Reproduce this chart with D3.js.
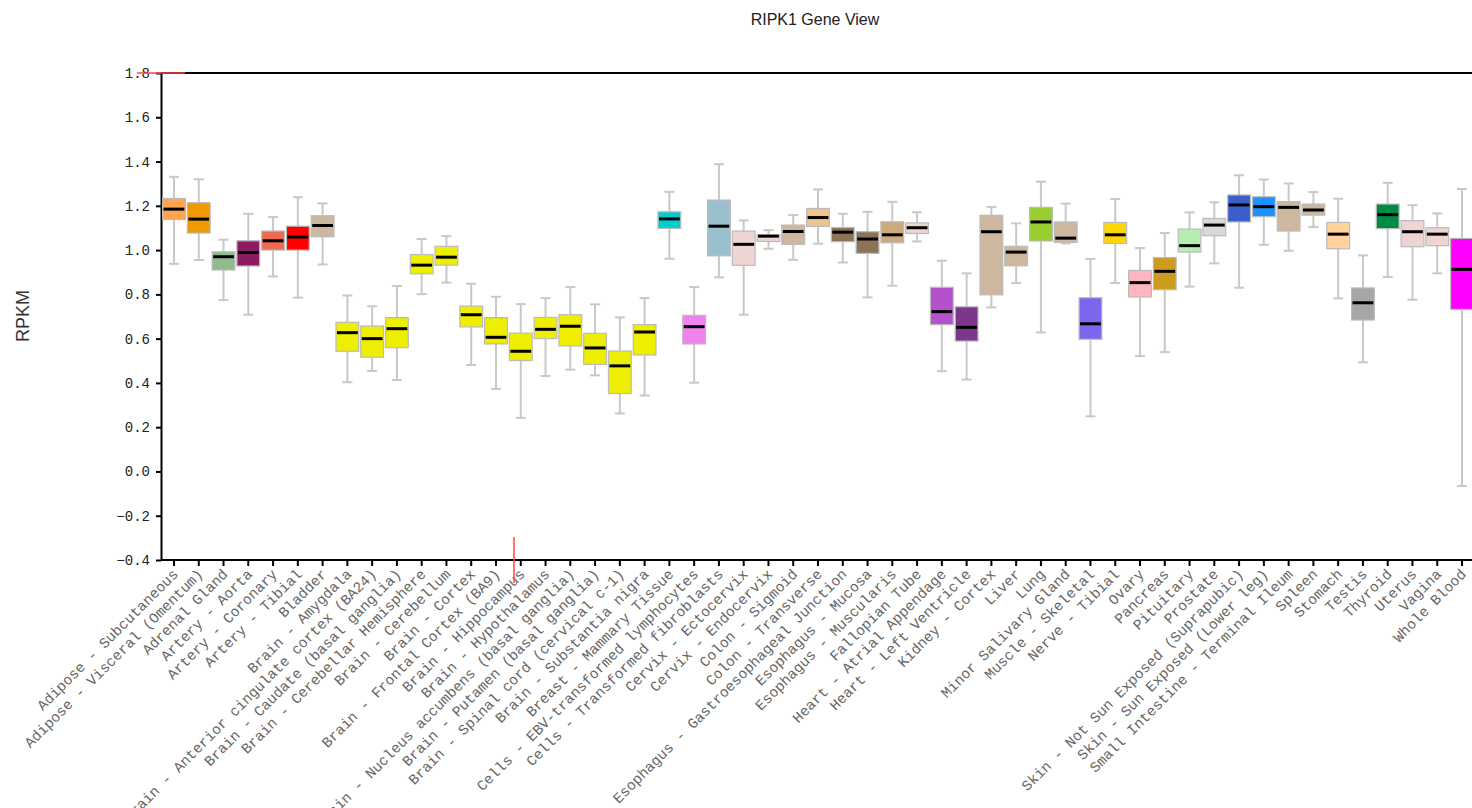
<!DOCTYPE html>
<html>
<head>
<meta charset="utf-8">
<script src="https://cdn.jsdelivr.net/npm/d3@7"></script>
<style>
  body { margin: 0; background: #fff; }
  #chart { width: 1472px; height: 808px; overflow: hidden; }
  .axis path, .axis line { stroke: #000; stroke-width: 2; }
  .yaxis text { font-family: "Liberation Mono", monospace; font-size: 14px; fill: #222; }
  .xaxis text { font-family: "Liberation Mono", monospace; font-size: 14.6px; fill: #666; }
</style>
</head>
<body>
<div id="chart"></div>
<script>
var tissues = ["Adipose - Subcutaneous","Adipose - Visceral (Omentum)","Adrenal Gland","Artery - Aorta",
  "Artery - Coronary","Artery - Tibial","Bladder","Brain - Amygdala","Brain - Anterior cingulate cortex (BA24)",
  "Brain - Caudate (basal ganglia)","Brain - Cerebellar Hemisphere","Brain - Cerebellum","Brain - Cortex",
  "Brain - Frontal Cortex (BA9)","Brain - Hippocampus","Brain - Hypothalamus","Brain - Nucleus accumbens (basal ganglia)",
  "Brain - Putamen (basal ganglia)","Brain - Spinal cord (cervical c-1)","Brain - Substantia nigra",
  "Breast - Mammary Tissue","Cells - EBV-transformed lymphocytes","Cells - Transformed fibroblasts",
  "Cervix - Ectocervix","Cervix - Endocervix","Colon - Sigmoid","Colon - Transverse",
  "Esophagus - Gastroesophageal Junction","Esophagus - Mucosa","Esophagus - Muscularis","Fallopian Tube",
  "Heart - Atrial Appendage","Heart - Left Ventricle","Kidney - Cortex","Liver","Lung","Minor Salivary Gland",
  "Muscle - Skeletal","Nerve - Tibial","Ovary","Pancreas","Pituitary","Prostate",
  "Skin - Not Sun Exposed (Suprapubic)","Skin - Sun Exposed (Lower leg)","Small Intestine - Terminal Ileum",
  "Spleen","Stomach","Testis","Thyroid","Uterus","Vagina","Whole Blood"];

var colors = ["#FFA54F","#EE9A00","#8FBC8F","#8B1C62","#EE6A50","#FF0000","#CDB79E",
  "#EEEE00","#EEEE00","#EEEE00","#EEEE00","#EEEE00","#EEEE00","#EEEE00","#EEEE00","#EEEE00","#EEEE00",
  "#EEEE00","#EEEE00","#EEEE00","#00CDCD","#EE82EE","#9AC0CD","#EED5D2","#EED5D2","#CDB79E","#EEC591",
  "#8B7355","#8B7355","#CDAA7D","#EED5D2","#B452CD","#7A378B","#CDB79E","#CDB79E","#9ACD32","#CDB79E",
  "#7A67EE","#FFD700","#FFB6C1","#CD9B1D","#B4EEB4","#D9D9D9","#3A5FCD","#1E90FF","#CDB79E",
  "#CDB79E","#FFD39B","#A6A6A6","#008B45","#EED5D2","#EED5D2","#FF00FF"];

var whiskerHigh = [1.331,1.320,1.047,1.164,1.149,1.239,1.211,0.795,0.746,0.838,1.050,1.063,0.848,0.789,
  0.756,0.783,0.833,0.755,0.696,0.783,1.263,0.833,1.388,1.134,1.090,1.158,1.274,1.164,1.173,1.218,1.171,
  0.952,0.895,1.195,1.121,1.309,1.210,0.960,1.231,1.009,1.077,1.170,1.216,1.338,1.319,1.301,1.262,1.232,
  0.976,1.304,1.203,1.166,1.276];
var q3 = [1.233,1.214,0.992,1.042,1.086,1.108,1.155,0.674,0.657,0.695,0.980,1.017,0.747,0.695,
  0.625,0.696,0.708,0.624,0.544,0.663,1.173,0.705,1.226,1.086,1.069,1.113,1.188,1.102,1.083,1.128,1.123,
  0.832,0.744,1.157,1.017,1.193,1.127,0.785,1.125,0.908,0.966,1.095,1.143,1.249,1.241,1.219,1.208,1.125,
  0.829,1.208,1.133,1.101,1.053];
var medians = [1.185,1.140,0.970,0.989,1.042,1.059,1.111,0.627,0.600,0.645,0.932,0.968,0.708,0.606,
  0.543,0.642,0.656,0.558,0.477,0.630,1.141,0.654,1.108,1.026,1.063,1.084,1.147,1.081,1.050,1.069,1.101,
  0.722,0.651,1.083,0.991,1.127,1.054,0.667,1.069,0.853,0.904,1.020,1.113,1.204,1.196,1.193,1.181,1.072,
  0.762,1.160,1.083,1.072,0.913];
var q1 = [1.138,1.077,0.910,0.928,1.000,1.000,1.060,0.543,0.516,0.559,0.893,0.932,0.653,0.576,
  0.501,0.600,0.567,0.484,0.352,0.526,1.098,0.576,0.974,0.931,1.039,1.026,1.107,1.038,0.985,1.033,1.075,
  0.663,0.589,0.798,0.929,1.041,1.035,0.597,1.030,0.788,0.821,0.991,1.065,1.127,1.151,1.086,1.158,1.006,
  0.684,1.097,1.015,1.020,0.732];
var whiskerLow = [0.938,0.955,0.774,0.708,0.881,0.785,0.935,0.403,0.454,0.413,0.801,0.853,0.481,0.373,
  0.242,0.431,0.460,0.434,0.262,0.343,0.961,0.401,0.877,0.708,1.006,0.956,1.029,0.944,0.786,0.839,1.039,
  0.453,0.415,0.741,0.851,0.628,1.030,0.249,0.851,0.521,0.539,0.835,0.940,0.830,1.024,0.997,1.104,0.782,
  0.493,0.878,0.776,0.895,-0.066];

var yTicks = [-0.4,-0.2,0.0,0.2,0.4,0.6,0.8,1.0,1.2,1.4,1.6,1.8];

var width = 1472, height = 808;
var margin = {top: 73, left: 161, bottom: 248};

var svg = d3.select("#chart").append("svg")
  .attr("width", width)
  .attr("height", height);

var xScale = d3.scaleBand()
  .domain(tissues)
  .range([161.6, 1474.4])
  .paddingInner(0.08)
  .paddingOuter(0.04);

var yScale = d3.scaleLinear()
  .domain([-0.4, 1.8])
  .range([height - margin.bottom, margin.top]);

var rows = tissues.map(function(t, i) {
  return {name: t, color: colors[i], hi: whiskerHigh[i], q3: q3[i], med: medians[i], q1: q1[i], lo: whiskerLow[i]};
});

// title + y label
svg.append("text")
  .attr("x", 815).attr("y", 25)
  .attr("text-anchor", "middle")
  .style("font-family", "Liberation Sans, Arial, sans-serif")
  .style("font-size", "16px")
  .style("fill", "#222")
  .text("RIPK1 Gene View");

svg.append("text")
  .attr("transform", "rotate(-90)")
  .attr("x", -316).attr("y", 29)
  .attr("text-anchor", "middle")
  .style("font-family", "Liberation Sans, Arial, sans-serif")
  .style("font-size", "18px")
  .style("fill", "#333")
  .text("RPKM");

// top frame line
svg.append("line")
  .attr("x1", margin.left).attr("x2", width)
  .attr("y1", yScale(1.8)).attr("y2", yScale(1.8))
  .attr("stroke", "#000").attr("stroke-width", 2);

var fmt = d3.format(".1f");
svg.append("g")
  .attr("class", "axis yaxis")
  .attr("transform", `translate(${margin.left},0)`)
  .call(d3.axisLeft(yScale).tickValues(yTicks).tickFormat(fmt).tickSize(5).tickPadding(6).tickSizeOuter(0));

var xAxis = svg.append("g")
  .attr("class", "axis xaxis")
  .attr("transform", `translate(0,${yScale(-0.4)})`)
  .call(d3.axisBottom(xScale).tickSize(6).tickSizeOuter(0));
xAxis.select(".domain").attr("d", `M${margin.left},0H${width}`);
xAxis.selectAll("text")
  .attr("text-anchor", "end")
  .attr("dy", null)
  .attr("transform", "translate(5,15) rotate(-45)")
  .attr("y", 0).attr("x", 0);

// boxes
var g = svg.selectAll(".box")
  .data(rows)
  .enter().append("g")
  .attr("class", "box")
  .attr("transform", function(d) { return `translate(${xScale(d.name)},0)`; });

var bw = xScale.bandwidth();
var cx = bw / 2;

g.append("line")
  .attr("x1", cx).attr("x2", cx)
  .attr("y1", function(d) { return yScale(d.hi); })
  .attr("y2", function(d) { return yScale(d.lo); })
  .attr("stroke", "#c8c8c8").attr("stroke-width", 2);

g.append("line")
  .attr("x1", cx - 5).attr("x2", cx + 5)
  .attr("y1", function(d) { return yScale(d.hi); })
  .attr("y2", function(d) { return yScale(d.hi); })
  .attr("stroke", "#c8c8c8").attr("stroke-width", 2);

g.append("line")
  .attr("x1", cx - 5).attr("x2", cx + 5)
  .attr("y1", function(d) { return yScale(d.lo); })
  .attr("y2", function(d) { return yScale(d.lo); })
  .attr("stroke", "#c8c8c8").attr("stroke-width", 2);

g.append("rect")
  .attr("x", 0)
  .attr("width", bw)
  .attr("y", function(d) { return yScale(d.q3); })
  .attr("height", function(d) { return yScale(d.q1) - yScale(d.q3); })
  .attr("fill", function(d) { return d.color; })
  .attr("stroke", "#bbb").attr("stroke-width", 1.2);

g.append("line")
  .attr("x1", 1).attr("x2", bw - 1)
  .attr("y1", function(d) { return yScale(d.med); })
  .attr("y2", function(d) { return yScale(d.med); })
  .attr("stroke", "#000").attr("stroke-width", 3);

// red marker lines seen on the chart
svg.append("line")
  .attr("x1", 137).attr("x2", 185)
  .attr("y1", yScale(1.8)).attr("y2", yScale(1.8))
  .attr("stroke", "#f44").attr("stroke-width", 1.5);
svg.append("line")
  .attr("x1", 514).attr("x2", 514)
  .attr("y1", 537).attr("y2", 583)
  .attr("stroke", "#f44").attr("stroke-width", 1.5);
</script>
</body>
</html>
